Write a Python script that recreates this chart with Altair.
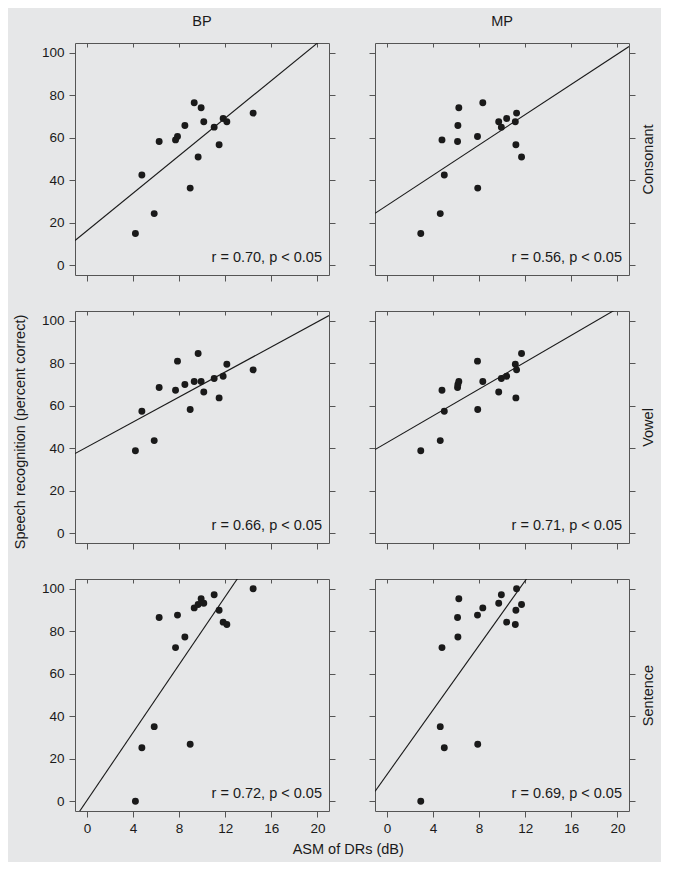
import altair as alt
import pandas as pd

# ---- data (one entry per listener) ----
bp_asm = [4.21, 4.77, 5.84, 6.27, 7.69, 7.86, 8.50, 8.96, 9.31, 9.65, 9.91, 10.14, 11.04, 11.47, 11.82, 12.14, 14.42]
mp_asm = [2.94, 4.98, 4.63, 6.13, 4.78, 7.86, 6.16, 7.88, 8.32, 11.68, 6.24, 9.70, 9.93, 11.19, 10.39, 11.14, 11.25]
consonant = [14.9, 42.5, 24.3, 58.2, 59.0, 60.6, 65.8, 36.3, 76.5, 50.9, 74.1, 67.5, 65.0, 56.7, 69.1, 67.5, 71.6]
vowel = [38.8, 57.4, 43.6, 68.6, 67.3, 81.0, 70.0, 58.2, 71.4, 84.6, 71.4, 66.5, 72.8, 63.7, 73.9, 79.5, 76.9]
sentence = [0.0, 25.2, 35.1, 86.5, 72.3, 87.6, 77.3, 26.8, 91.0, 92.6, 95.3, 93.2, 97.2, 89.9, 84.3, 83.2, 100.0]

tasks = ["Consonant", "Vowel", "Sentence"]
methods = ["BP", "MP"]
scores = {"Consonant": consonant, "Vowel": vowel, "Sentence": sentence}
asm = {"BP": bp_asm, "MP": mp_asm}

# fitted lines (intercept, slope)
line_intercept = {("Consonant", "BP"): 16.2, ("Consonant", "MP"): 28.1,
                  ("Vowel", "BP"): 40.5, ("Vowel", "MP"): 42.6,
                  ("Sentence", "BP"): 0.3, ("Sentence", "MP"): 12.5}
line_slope = {("Consonant", "BP"): 4.42, ("Consonant", "MP"): 3.565,
              ("Vowel", "BP"): 2.95, ("Vowel", "MP"): 3.16,
              ("Sentence", "BP"): 8.0, ("Sentence", "MP"): 7.61}
r_text = {("Consonant", "BP"): "r = 0.70, p < 0.05", ("Consonant", "MP"): "r = 0.56, p < 0.05",
          ("Vowel", "BP"): "r = 0.66, p < 0.05", ("Vowel", "MP"): "r = 0.71, p < 0.05",
          ("Sentence", "BP"): "r = 0.72, p < 0.05", ("Sentence", "MP"): "r = 0.69, p < 0.05"}

x_ticks = [0, 4, 8, 12, 16, 20]
y_ticks = [0, 20, 40, 60, 80, 100]
x_title = "ASM of DRs (dB)"
y_title = "Speech recognition (percent correct)"

# ---- layout / style ----
W, H = 254, 232
X_DOMAIN = [-1.03, 21.0]
Y_DOMAIN = [-4.6, 104.6]
INK = "#1a1a1a"
FRAME = "#555555"
FONT = "Liberation Sans"


def panel(ti, task, mi, method):
    key = (task, method)
    df = pd.DataFrame({"asm": asm[method], "score": scores[task]})
    b, m = line_intercept[key], line_slope[key]
    ldf = pd.DataFrame({"asm": X_DOMAIN, "score": [b + m * x for x in X_DOMAIN]})
    xs = alt.Scale(domain=X_DOMAIN, nice=False, zero=False)
    ys = alt.Scale(domain=Y_DOMAIN, nice=False, zero=False)
    bottom = ti == len(tasks) - 1
    left = mi == 0
    right = mi == len(methods) - 1

    pts = alt.Chart(df).mark_circle(size=48, color=INK, opacity=1).encode(
        x=alt.X("asm:Q", scale=xs, axis=alt.Axis(orient="bottom", values=x_ticks, labels=bottom,
                                                  tickSize=6, labelPadding=4, domain=False, grid=False,
                                                  title=None, labelFontSize=13.5)),
        y=alt.Y("score:Q", scale=ys, axis=alt.Axis(orient="left", values=y_ticks, labels=left,
                                                    tickSize=6, labelPadding=5, domain=False, grid=False,
                                                    title=None, labelFontSize=13.5)),
    )
    raxis = dict(orient="right", values=y_ticks, labels=False, tickSize=6, domain=False, grid=False)
    if right:
        raxis.update(title=task, titleAngle=270, titleBaseline="top", titlePadding=6,
                     titleFontSize=14.5, titleFontWeight="normal")
    else:
        raxis.update(title=None)
    ln = alt.Chart(ldf).mark_line(clip=True, color=INK, strokeWidth=1.1).encode(
        x=alt.X("asm:Q", scale=xs, axis=alt.Axis(orient="top", values=x_ticks, labels=False,
                                                  tickSize=4, offset=-4, domain=False, grid=False,
                                                  title=None)),
        y=alt.Y("score:Q", scale=ys, axis=alt.Axis(**raxis)),
    )
    txt = alt.Chart(pd.DataFrame({"label": [r_text[key]]})).mark_text(
        align="right", baseline="alphabetic", fontSize=14.5, color=INK
    ).encode(x=alt.value(W - 7), y=alt.value(H - 13.5), text="label:N")

    props = dict(width=W, height=H)
    if ti == 0:
        props["title"] = alt.TitleParams(method, fontSize=14.5, fontWeight="normal", anchor="middle",
                                         offset=13, color=INK)
    return alt.layer(pts, ln, txt).resolve_axis(x="independent", y="independent").properties(**props)


rows = [alt.hconcat(*[panel(ti, t, mi, m) for mi, m in enumerate(methods)], spacing=32)
        for ti, t in enumerate(tasks)]
grid = alt.vconcat(*rows, spacing=28).properties(
    title=alt.TitleParams(x_title, orient="bottom", anchor="middle", fontSize=14.5,
                          fontWeight="normal", offset=8, color=INK)
)

ytitle = alt.Chart(pd.DataFrame({"t": [y_title]})).mark_text(
    angle=270, fontSize=14.5, baseline="middle", align="center", color=INK
).encode(x=alt.value(7), y=alt.value(389), text="t:N").properties(
    width=14, height=700, view=alt.ViewBackground(strokeOpacity=0)
)

chart = alt.hconcat(ytitle, grid, spacing=12).configure(
    background="#e6e7e8", font=FONT
).configure_view(stroke=FRAME, strokeWidth=1).configure_axis(
    tickColor=FRAME, labelColor=INK, titleColor=INK, labelFont=FONT, titleFont=FONT
).configure_title(font=FONT)

chart.save("out.html", embed_options={"renderer": "svg", "actions": False})
